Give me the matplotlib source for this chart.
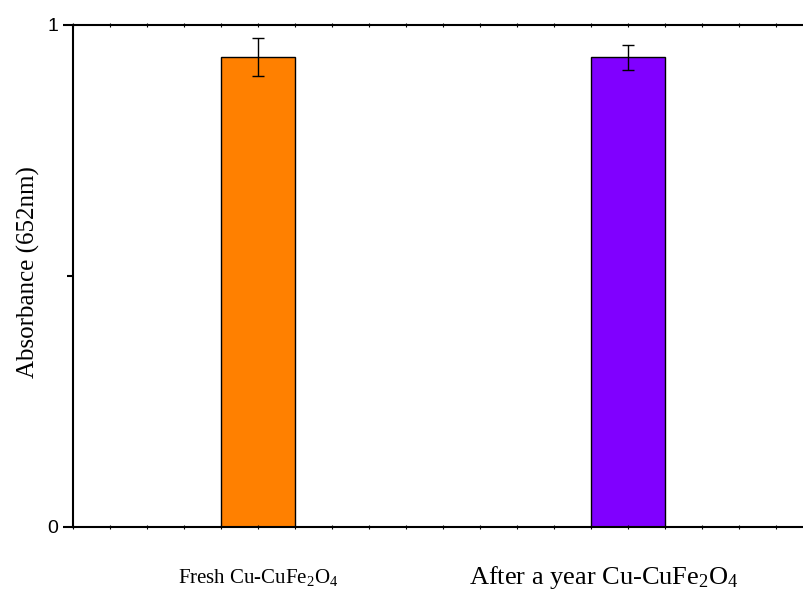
import matplotlib
matplotlib.use('Agg')
from matplotlib import pyplot as plt
from matplotlib.ticker import MultipleLocator

plt.rcParams['mathtext.default'] = 'regular'

# Dados
amostras = ['Fresh Cu-CuFe$_2$O$_4$', 'After a year Cu-CuFe$_2$O$_4$']
absorbancia = [0.936, 0.936]
erro_sup = [0.038, 0.024]
erro_inf = [0.038, 0.026]
cores = ['#ff8000', '#8000ff']
tamanho_rotulo = [15, 19]

fig = plt.figure(figsize=(8.04, 5.95), dpi=100)
ax = fig.add_axes([0.0908, 0.1143, 0.9204, 0.8437])

posicoes = [1, 2]
ax.bar(posicoes, absorbancia, width=0.2, color=cores, edgecolor='black', linewidth=1,
       yerr=[erro_inf, erro_sup], error_kw={'elinewidth': 1, 'capsize': 4, 'capthick': 1, 'ecolor': 'black'})

ax.set_xlim(0.5, 2.5)
ax.set_ylim(0, 1)

# Eixos
for lado in ['left', 'top', 'bottom']:
    ax.spines[lado].set_linewidth(1.5)
ax.spines['right'].set_visible(False)

ax.set_yticks([0, 1])
ax.set_yticklabels(['0', '1'], fontfamily='Liberation Sans', fontsize=14)
ax.yaxis.set_minor_locator(MultipleLocator(0.5))
ax.tick_params(axis='y', which='major', direction='out', length=7.5, width=1.5, pad=3)
ax.tick_params(axis='y', which='minor', direction='out', length=4, width=1.5)

ax.set_xticks(posicoes)
ax.set_xticklabels([])
ax.xaxis.set_minor_locator(MultipleLocator(0.1))
ax.tick_params(axis='x', which='both', direction='inout', length=2.5, width=0.8, top=True)

# Rótulos das amostras (o segundo fica um pouco à esquerda no original)
desloc = [0.0, -0.065]
for x, d, nome, fs in zip(posicoes, desloc, amostras, tamanho_rotulo):
    ax.text(x + d, -0.1, nome, transform=ax.transData, ha='center', va='center',
            fontfamily='Liberation Serif', fontsize=fs, clip_on=False)

fig.text(0.036, 0.543, 'Absorbance (652nm)', rotation=90, ha='center', va='center',
         fontfamily='Liberation Serif', fontsize=18)

fig.savefig('out.png', dpi=100)
